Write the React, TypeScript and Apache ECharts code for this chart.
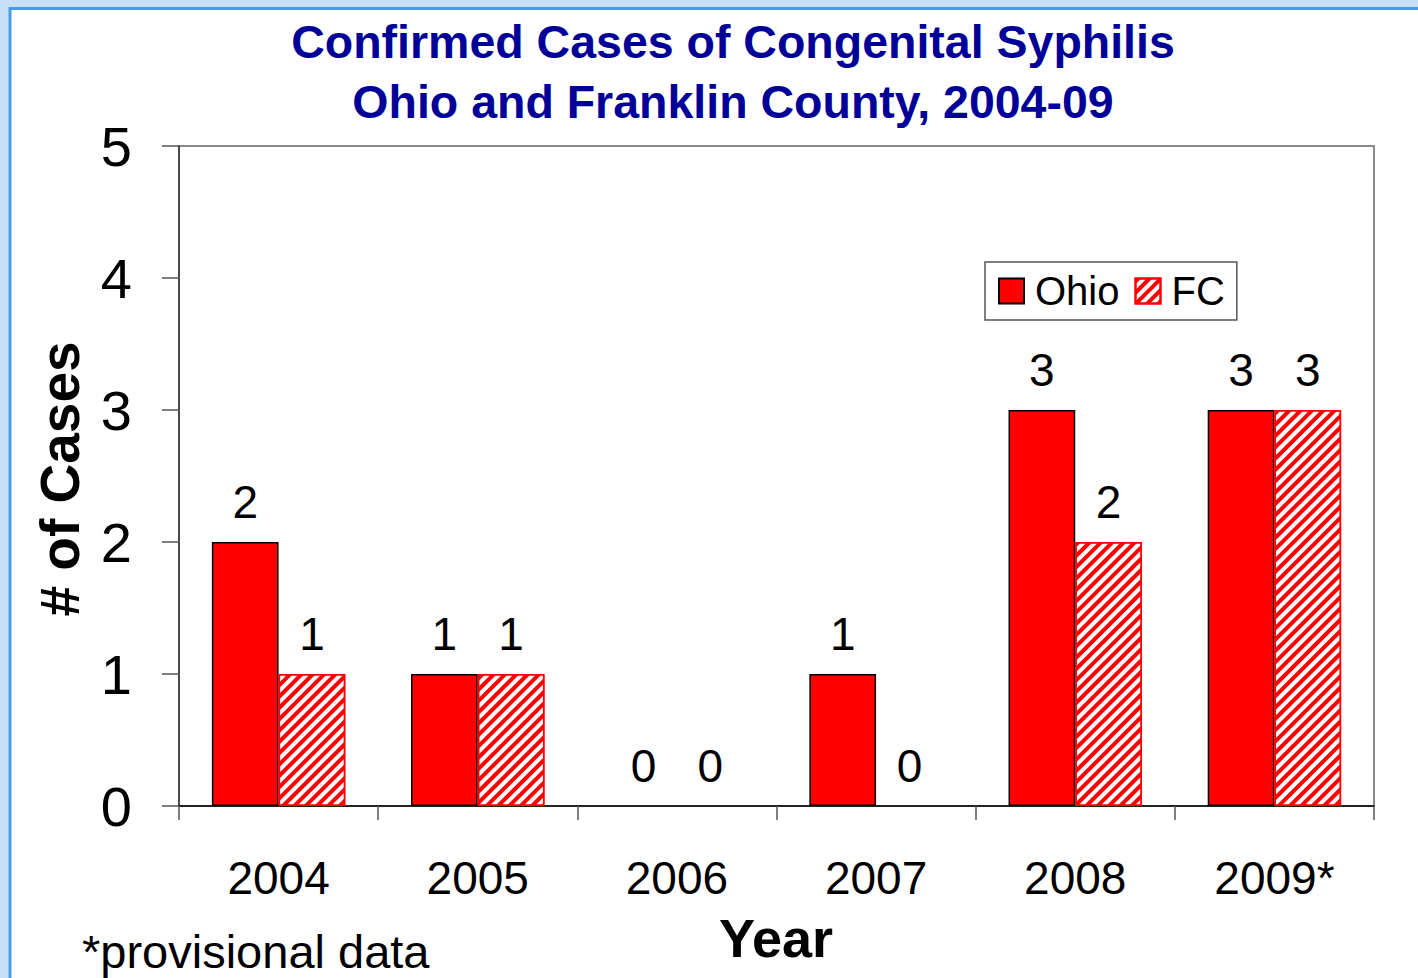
import React, { useEffect, useRef } from "react";
import * as echarts from "echarts";

const categories = ["2004", "2005", "2006", "2007", "2008", "2009*"];
const ohioValues = [2, 1, 0, 1, 3, 3];
const fcValues = [1, 1, 0, 0, 2, 3];
const yTicks = { min: 0, max: 5, interval: 1 };
const titleLines = ["Confirmed Cases of Congenital Syphilis", "Ohio and Franklin County, 2004-09"];

const FONT = 'Arial, "Liberation Sans", sans-serif';

const toData = (values: number[]) =>
  values.map((v) => (v === 0 ? { value: v, itemStyle: { borderWidth: 0 } } : v));

export default function App() {
  const ref = useRef<HTMLDivElement>(null);
  useEffect(() => {
    if (!ref.current) return;
    const chart = echarts.init(ref.current, null, { renderer: "svg" });
    const hatch = {
      symbol: "rect",
      symbolSize: 1,
      color: "#ff0000",
      backgroundColor: "#ffffff",
      dashArrayX: [1, 0],
      dashArrayY: [4, 4],
      rotation: -Math.PI / 4,
    };
    chart.setOption({
      animation: false,
      backgroundColor: "#c6e0f9",
      textStyle: { fontFamily: FONT },
      grid: {
        left: 179,
        right: 44,
        top: 146,
        bottom: 172,
        show: true,
        borderColor: "#8a8a8a",
        borderWidth: 2,
        backgroundColor: "transparent",
      },
      legend: {
        left: 985,
        top: 262,
        padding: [9, 12, 9, 13],
        itemGap: 15,
        itemWidth: 25,
        itemHeight: 25,
        borderColor: "#555555",
        borderWidth: 1.5,
        backgroundColor: "#ffffff",
        borderRadius: 0,
        textStyle: { fontSize: 40, color: "#000", fontFamily: FONT, padding: [0, 0, 0, 6] },
        data: [
          { name: "Ohio", icon: "rect" },
          { name: "FC", icon: "rect" },
        ],
      },
      xAxis: {
        type: "category",
        data: categories,
        axisLine: { lineStyle: { color: "#000", width: 1.5 } },
        axisTick: { show: true, length: 14, lineStyle: { color: "#555", width: 1.5 } },
        axisLabel: { fontSize: 46, color: "#000", margin: 49, fontFamily: FONT },
        splitLine: { show: false },
      },
      yAxis: {
        type: "value",
        min: yTicks.min,
        max: yTicks.max,
        interval: yTicks.interval,
        axisLine: { show: true, lineStyle: { color: "#333", width: 1.5 } },
        axisTick: { show: true, length: 17, lineStyle: { color: "#555", width: 1.5 } },
        axisLabel: { fontSize: 56, color: "#000", margin: 47, fontFamily: FONT },
        splitLine: { show: false },
      },
      series: [
        {
          name: "Ohio",
          type: "bar",
          data: toData(ohioValues),
          barGap: "0%",
          barCategoryGap: "33%",
          itemStyle: { color: "#ff0000", borderColor: "#000000", borderWidth: 1.5 },
          label: { show: true, position: "top", distance: 17, fontSize: 46, color: "#000", fontFamily: FONT },
        },
        {
          name: "FC",
          type: "bar",
          data: toData(fcValues),
          barGap: "0%",
          barCategoryGap: "33%",
          itemStyle: { color: "#ffffff", borderColor: "#ff0000", borderWidth: 1.5, decal: hatch },
          label: { show: true, position: "top", distance: 17, fontSize: 46, color: "#000", fontFamily: FONT },
        },
      ],
      graphic: [
        {
          type: "rect",
          z: -100,
          silent: true,
          shape: { x: 10, y: 8.5, width: 1500, height: 1100 },
          style: { fill: "#ffffff", stroke: "#4a9be8", lineWidth: 3 },
        },
        {
          type: "text",
          x: 733,
          y: 12,
          style: {
            text: titleLines.join("\n"),
            fontSize: 46.5,
            fontWeight: "bold",
            fontFamily: FONT,
            fill: "#000099",
            textAlign: "center",
            textVerticalAlign: "top",
            lineHeight: 60,
          },
        },
        {
          type: "text",
          x: 60,
          y: 479,
          rotation: Math.PI / 2,
          style: {
            text: "# of Cases",
            fontSize: 55,
            fontWeight: "bold",
            fontFamily: FONT,
            fill: "#000",
            textAlign: "center",
            textVerticalAlign: "middle",
          },
        },
        {
          type: "text",
          x: 776,
          y: 938,
          style: {
            text: "Year",
            fontSize: 54,
            fontWeight: "bold",
            fontFamily: FONT,
            fill: "#000",
            textAlign: "center",
            textVerticalAlign: "middle",
          },
        },
        {
          type: "text",
          x: 82,
          y: 951,
          style: {
            text: "*provisional data",
            fontSize: 47,
            fontFamily: FONT,
            fill: "#000",
            textAlign: "left",
            textVerticalAlign: "middle",
          },
        },
      ],
    });
    return () => chart.dispose();
  }, []);
  return <div ref={ref} style={{ position: "fixed", left: 0, top: 0, width: 1418, height: 978 }} />;
}
